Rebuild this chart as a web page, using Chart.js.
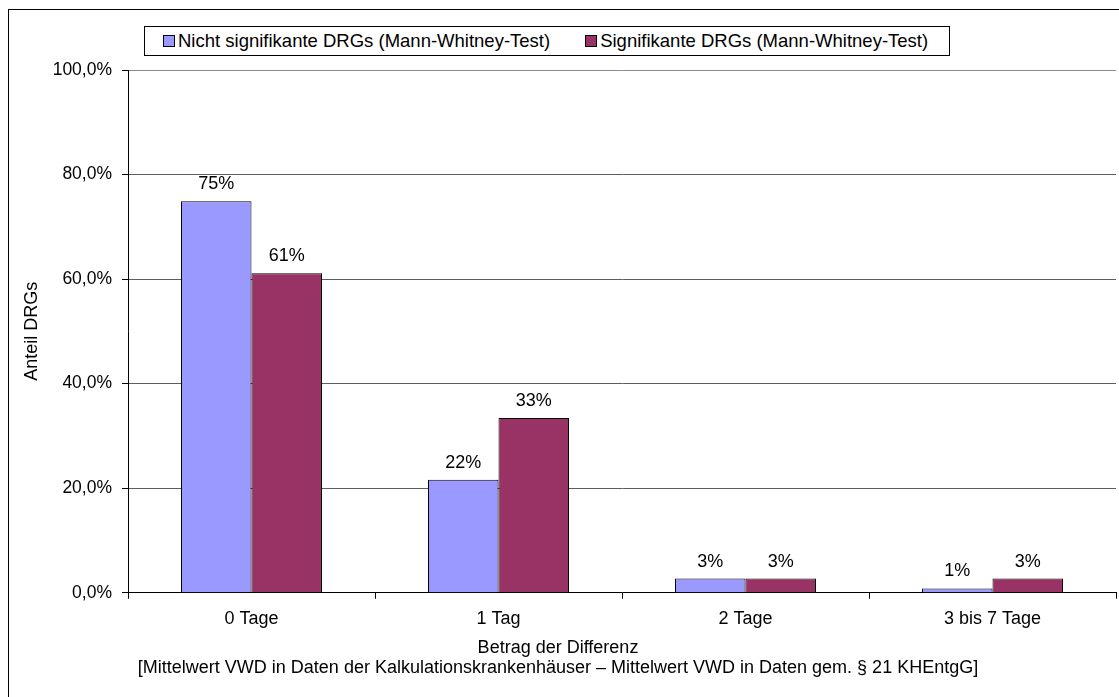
<!DOCTYPE html>
<html lang="de">
  <head>
    <meta charset="UTF-8">
    <script src="https://cdn.jsdelivr.net/npm/chart.js"></script>

    <style>
      body {
        margin: 0;
        background: #fff;
      }
      #wrap {
        position: relative;
        width: 1119px;
        height: 697px;
        overflow: hidden;
      }
      #drgChart {
        position: absolute;
        left: 0;
        top: 0;
      }
      /* legend box above the plot */
      #legend {
        position: absolute;
        left: 144px;
        top: 26px;
        width: 806px;
        height: 30px;
        box-sizing: border-box;
        border: 1px solid #000;
        background: #fff;
        display: flex;
        align-items: center;
        padding-left: 18px;
        gap: 35px;
        font: 18.5px "Liberation Sans", Arial, sans-serif;
        color: #000;
      }
      #legend .item {
        display: flex;
        align-items: center;
        white-space: nowrap;
      }
      #legend .swatch {
        width: 10px;
        height: 10px;
        border: 1px solid #000;
        margin-right: 3px;
      }
    </style>
  </head>
  <body>
    <div id="wrap">
      <canvas id="drgChart" width="1119" height="697"></canvas>
      <div id="legend"></div>
    </div>

    <script>
      const categories = ['0 Tage', '1 Tag', '2 Tage', '3 bis 7 Tage'];
      const nichtSignifikant = [74.9, 21.6, 2.7, 0.8];
      const signifikant = [61.1, 33.4, 2.7, 2.7];
      const seriesNames = [
        'Nicht signifikante DRGs (Mann-Whitney-Test)',
        'Signifikante DRGs (Mann-Whitney-Test)'
      ];
      const xTitle = [
        'Betrag der Differenz',
        '[Mittelwert VWD in Daten der Kalkulationskrankenhäuser – Mittelwert VWD in Daten gem. § 21 KHEntgG]'
      ];

      const FONT = '"Liberation Sans", Arial, sans-serif';
      Chart.defaults.font.family = FONT;
      Chart.defaults.font.size = 18;
      Chart.defaults.color = '#000';

      // black frame around the whole figure
      const frame = {
        id: 'frame',
        beforeDraw(chart) {
          const ctx = chart.ctx;
          ctx.save();
          ctx.strokeStyle = '#000';
          ctx.lineWidth = 1;
          ctx.strokeRect(8.5, 9.5, chart.width + 20, chart.height + 20);
          ctx.restore();
        }
      };

      // rounded percentage above each bar
      const valueLabels = {
        id: 'valueLabels',
        afterDatasetsDraw(chart) {
          const ctx = chart.ctx;
          ctx.save();
          ctx.font = '18px ' + FONT;
          ctx.fillStyle = '#000';
          ctx.textAlign = 'center';
          ctx.textBaseline = 'alphabetic';
          chart.data.datasets.forEach((ds, i) => {
            chart.getDatasetMeta(i).data.forEach((bar, j) => {
              ctx.fillText(Math.round(ds.data[j]) + '%', bar.x, bar.y - 12);
            });
          });
          ctx.restore();
        }
      };

      const data = {
        labels: categories,
        datasets: [
          {
            label: seriesNames[0],
            data: nichtSignifikant,
            backgroundColor: '#9999ff',
            borderColor: '#000',
            borderWidth: 1
          },
          {
            label: seriesNames[1],
            data: signifikant,
            backgroundColor: '#993366',
            borderColor: '#000',
            borderWidth: 1
          }
        ]
      };

      const config = {
        type: 'bar',
        data: data,
        options: {
          responsive: false,
          animation: false,
          datasets: {
            bar: {
              barPercentage: 1,
              categoryPercentage: 0.571
            }
          },
          layout: {
            padding: { top: 70, right: 3, bottom: 0, left: 0 }
          },
          plugins: {
            legend: { display: false },
            tooltip: { enabled: false },
            title: {
              display: true,
              position: 'bottom',
              text: xTitle,
              color: '#000',
              font: { size: 18, weight: 'normal', lineHeight: 1.12 },
              padding: { top: 0, bottom: 19 }
            }
          },
          scales: {
            x: {
              afterFit(scale) { scale.height = 45; },
              grid: {
                offset: true,
                drawOnChartArea: true,
                color: (c) => c.index === categories.length ? '#9a9a9a' : 'rgba(0,0,0,0)',
                tickColor: '#000',
                tickLength: 6
              },
              border: { color: '#000', width: 1 },
              ticks: { padding: 10, font: { size: 18 } }
            },
            y: {
              min: 0,
              max: 100,
              afterFit(scale) { scale.width = 128; },
              grid: {
                color: (c) => c.tick.value === 100 ? '#8a8a8a' : '#5e5e5e',
                tickColor: '#000',
                tickLength: 6
              },
              border: { color: '#000', width: 1 },
              ticks: {
                stepSize: 20,
                padding: 10,
                font: { size: 17.5 },
                callback: (v) => v.toFixed(1).replace('.', ',') + '%'
              },
              title: {
                display: true,
                text: 'Anteil DRGs',
                font: { size: 18 },
                padding: { top: 21, bottom: 0 }
              }
            }
          }
        },
        plugins: [frame, valueLabels]
      };

      const chart = new Chart(document.getElementById('drgChart').getContext('2d'), config);

      // legend built from the dataset labels and colours
      const legendEl = document.getElementById('legend');
      chart.data.datasets.forEach((ds) => {
        const item = document.createElement('span');
        item.className = 'item';
        const sw = document.createElement('span');
        sw.className = 'swatch';
        sw.style.background = ds.backgroundColor;
        item.appendChild(sw);
        item.appendChild(document.createTextNode(ds.label));
        legendEl.appendChild(item);
      });
    </script>
  </body>
</html>
